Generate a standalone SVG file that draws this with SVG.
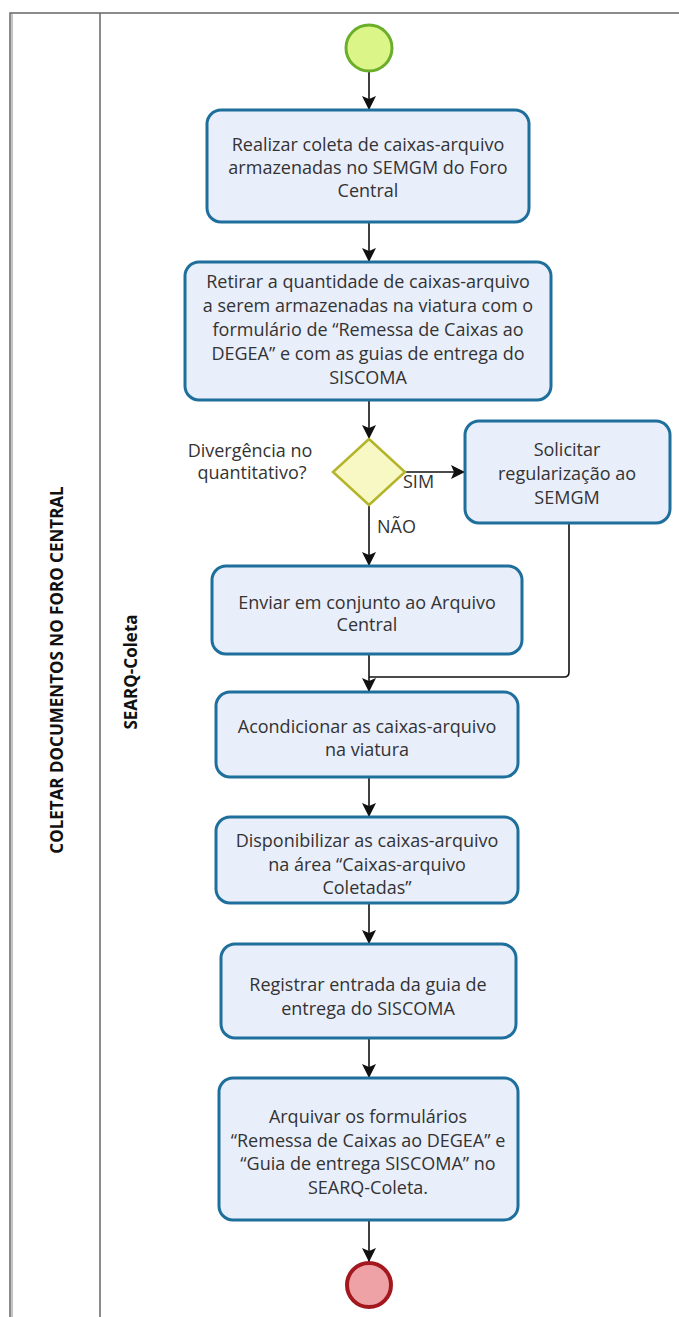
<svg xmlns="http://www.w3.org/2000/svg" width="679" height="1317" viewBox="0 0 679 1317">
  <defs>
    <marker id="arrow" viewBox="0 0 14 14" refX="13" refY="7" markerWidth="14" markerHeight="14" markerUnits="userSpaceOnUse" orient="auto">
      <path d="M0,0 L14,7 L0,14 L3,7 Z" fill="#111"/>
    </marker>
    <style>
      .pool { fill: #ffffff; stroke: #666; stroke-width: 1.5; }
      .task { fill: #e9eefb; stroke: #1f6f9c; stroke-width: 3; }
      .gw { fill: #f8f8c4; stroke: #b4b42a; stroke-width: 2.5; }
      .start { fill: #dcf589; stroke: #6aae2a; stroke-width: 3; }
      .end { fill: #eea2a6; stroke: #a3181e; stroke-width: 4; }
      .flow { fill: none; stroke: #111; stroke-width: 1.6; marker-end: url(#arrow); }
      .flow-plain { fill: none; stroke: #111; stroke-width: 1.6; }
      .txt { font-family: "Open Sans", "Noto Sans", sans-serif; font-size: 18px; fill: #333; text-anchor: middle; }
      .lbl { font-family: "Open Sans", "Noto Sans", sans-serif; font-size: 18px; fill: #333; }
      .lane { font-family: "Open Sans", "Noto Sans", sans-serif; font-size: 17px; font-weight: bold; fill: #111; text-anchor: middle; }
    </style>
  </defs>

  <rect width="679" height="1317" fill="#ffffff"/>

  <!-- pool and lane frame -->
  <g id="pool">
    <path class="pool" d="M679,13 H10 V1317"/>
    <line x1="12" y1="13" x2="12" y2="1317" stroke="#888" stroke-width="1"/>
    <line x1="100" y1="13" x2="100" y2="1317" stroke="#666" stroke-width="1.5"/>
    <text class="lane" transform="translate(63,670) rotate(-90)">COLETAR DOCUMENTOS NO FORO CENTRAL</text>
    <text class="lane" transform="translate(137,672) rotate(-90)">SEARQ-Coleta</text>
  </g>

  <!-- sequence flows -->
  <g id="connectors">
    <line class="flow" x1="369" y1="72" x2="369" y2="109"/>
    <line class="flow" x1="369" y1="222" x2="369" y2="261"/>
    <line class="flow" x1="369" y1="400" x2="369" y2="438"/>
    <line class="flow" x1="405" y1="472" x2="464" y2="472"/>
    <line class="flow" x1="369" y1="506" x2="369" y2="565"/>
    <line class="flow" x1="369" y1="654" x2="369" y2="691"/>
    <path class="flow-plain" d="M569,523 V672 Q569,677 564,677 H369"/>
    <line class="flow" x1="369" y1="777" x2="369" y2="816"/>
    <line class="flow" x1="369" y1="903" x2="369" y2="943"/>
    <line class="flow" x1="369" y1="1038" x2="369" y2="1077"/>
    <line class="flow" x1="369" y1="1220" x2="369" y2="1261"/>
    <text class="lbl" x="403" y="488">SIM</text>
    <text class="lbl" x="377" y="533">NÃO</text>
  </g>

  <g id="start">
    <circle class="start" cx="369" cy="48" r="23"/>
  </g>

  <g id="task1">
    <rect class="task" x="207" y="110" width="322" height="112" rx="14"/>
    <text class="txt" x="368" y="151">Realizar coleta de caixas-arquivo</text>
    <text class="txt" x="368" y="174">armazenadas no SEMGM do Foro</text>
    <text class="txt" x="368" y="197">Central</text>
  </g>

  <g id="task2">
    <rect class="task" x="185" y="262" width="366" height="138" rx="14"/>
    <text class="txt" x="368" y="288">Retirar a quantidade de caixas-arquivo</text>
    <text class="txt" x="368" y="312">a serem armazenadas na viatura com o</text>
    <text class="txt" x="368" y="336">formulário de “Remessa de Caixas ao</text>
    <text class="txt" x="368" y="360">DEGEA” e com as guias de entrega do</text>
    <text class="txt" x="368" y="384">SISCOMA</text>
  </g>

  <g id="gateway">
    <polygon class="gw" points="369,439 405,472 369,505 333,472"/>
    <text class="txt" x="250" y="457">Divergência no</text>
    <text class="txt" x="252" y="479">quantitativo?</text>
  </g>

  <g id="task3">
    <rect class="task" x="465" y="421" width="205" height="102" rx="14"/>
    <text class="txt" x="567" y="456">Solicitar</text>
    <text class="txt" x="567" y="480">regularização ao</text>
    <text class="txt" x="567" y="504">SEMGM</text>
  </g>

  <g id="task4">
    <rect class="task" x="212" y="566" width="310" height="88" rx="14"/>
    <text class="txt" x="367" y="609">Enviar em conjunto ao Arquivo</text>
    <text class="txt" x="367" y="631">Central</text>
  </g>

  <g id="task5">
    <rect class="task" x="216" y="692" width="302" height="85" rx="14"/>
    <text class="txt" x="367" y="733">Acondicionar as caixas-arquivo</text>
    <text class="txt" x="367" y="756">na viatura</text>
  </g>

  <g id="task6">
    <rect class="task" x="216" y="817" width="302" height="86" rx="14"/>
    <text class="txt" x="367" y="847">Disponibilizar as caixas-arquivo</text>
    <text class="txt" x="367" y="871">na área “Caixas-arquivo</text>
    <text class="txt" x="367" y="894">Coletadas”</text>
  </g>

  <g id="task7">
    <rect class="task" x="221" y="944" width="295" height="94" rx="14"/>
    <text class="txt" x="368" y="991">Registrar entrada da guia de</text>
    <text class="txt" x="368" y="1015">entrega do SISCOMA</text>
  </g>

  <g id="task8">
    <rect class="task" x="219" y="1078" width="299" height="142" rx="14"/>
    <text class="txt" x="368" y="1123">Arquivar os formulários</text>
    <text class="txt" x="368" y="1147">“Remessa de Caixas ao DEGEA” e</text>
    <text class="txt" x="368" y="1170">“Guia de entrega SISCOMA” no</text>
    <text class="txt" x="368" y="1194">SEARQ-Coleta.</text>
  </g>

  <g id="end">
    <circle class="end" cx="369" cy="1285" r="22"/>
  </g>
</svg>
